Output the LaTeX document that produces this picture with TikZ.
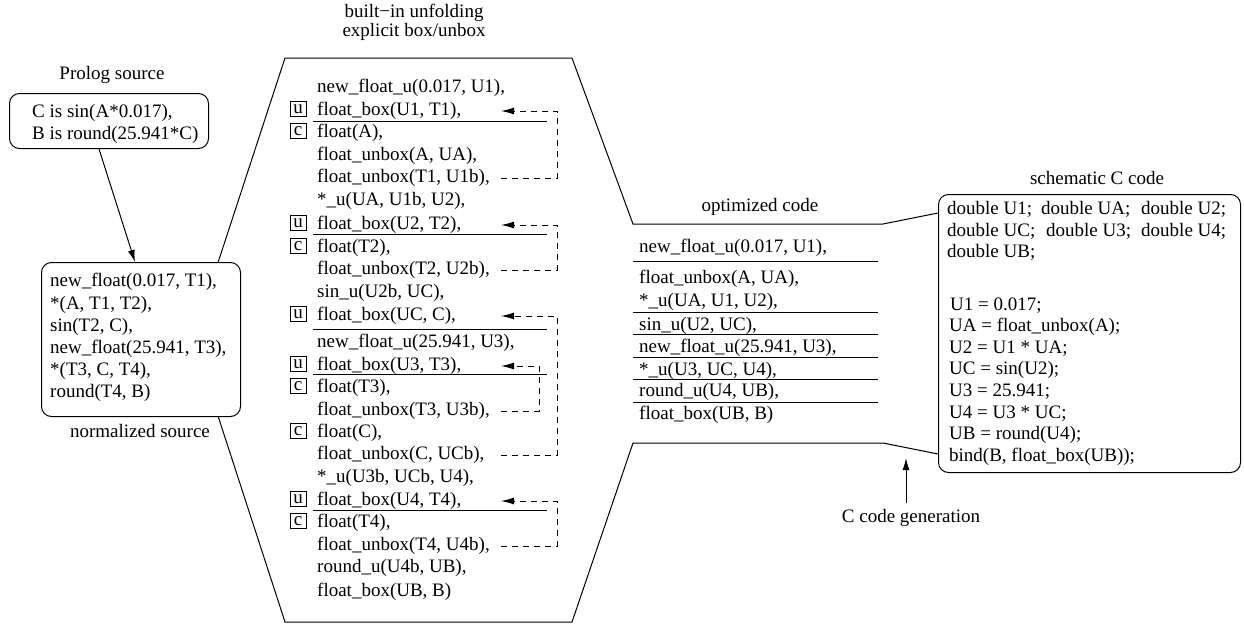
\documentclass[tikz,border=0pt]{standalone}
\usepackage{fontspec}
\setmainfont{Liberation Serif}
\usetikzlibrary{arrows.meta,calc}
\begin{document}
\begin{tikzpicture}[x=1pt,y=-1pt,
  every node/.style={font=\fontsize{19}{22}\selectfont, inner sep=0pt},
  txt/.style={anchor=west, text height=14pt, text depth=5pt},
  lbl/.style={text height=14pt, text depth=5pt},
  rbox/.style={draw, rounded corners=10pt, fill=white, line width=1pt, anchor=north west},
  tag/.style={draw, line width=0.9pt, minimum width=16pt, minimum height=15pt, inner sep=0pt},
  outline/.style={line width=1pt},
  rulel/.style={line width=1pt},
  solidarrow/.style={line width=1pt, -{Latex[length=12pt,width=7pt]}},
  dasharrow/.style={line width=1pt, dash pattern=on 6pt off 5pt, -{Latex[length=13pt,width=7pt]}},
]
\useasboundingbox (0,0) rectangle (1244,624);

% ---- C box (drawn first, outline ends on its left side)
\node[rbox, minimum width=302pt, minimum height=278pt] (cbox) at (938,194) {};

% ---- funnel outline
\coordinate (p1) at (285,58);
\coordinate (p2) at (572,58);
\coordinate (p3) at (633,224);
\coordinate (p4) at (883,224);
\coordinate (p7) at (883,443);
\coordinate (p8) at (633,443);
\coordinate (p9) at (572,622);
\coordinate (p10) at (285,622);
\coordinate (p11) at (193,339);
\coordinate (q5) at (cbox.west |- 0,213);
\coordinate (q6) at (cbox.west |- 0,454);
\draw[outline] (q5) -- (p4) -- (p3) -- (p2) -- (p1) -- (p11) -- (p10) -- (p9) -- (p8) -- (p7) -- (q6);

% ---- Prolog source
\node[lbl] (prolab) at (112,75) {Prolog source};
\node[rbox, minimum width=199pt, minimum height=55pt] (pro) at (9,93) {};
\node[txt] (pro1) at (32,113) {C is sin(A*0.017),};
\node[txt] (pro2) at (32,135) {B is round(25.941*C)};

% ---- normalized source
\node[rbox, minimum width=199pt, minimum height=154pt] (norm) at (41,262) {};
\node[txt] (n1) at (50,282) {new\_float(0.017, T1),};
\node[txt] (n2) at (50,305) {*(A, T1, T2),};
\node[txt] (n3) at (50,327) {sin(T2, C),};
\node[txt] (n4) at (50,349) {new\_float(25.941, T3),};
\node[txt] (n5) at (50,371) {*(T3, C, T4),};
\node[txt] (n6) at (50,393) {round(T4, B)};
\node[lbl] (normlab) at (140,433) {normalized source};

\draw[solidarrow] ($(pro.south west)+(90,0)$) -- ($(norm.north west)+(94,0)$);

% ---- middle column
\node[lbl] (mlab1) at (414,13) {built−in unfolding};
\node[lbl] (mlab2) at (414,32) {explicit box/unbox};

\node[txt] (l1) at (317,88) {new\_float\_u(0.017, U1),};
\node[txt] (l2) at (317,111) {float\_box(U1, T1),};
\node[txt] (l3) at (317,133) {float(A),};
\node[txt] (l4) at (317,156) {float\_unbox(A, UA),};
\node[txt] (l5) at (317,178) {float\_unbox(T1, U1b),};
\node[txt] (l6) at (317,201) {*\_u(UA, U1b, U2),};
\node[txt] (l7) at (317,225) {float\_box(U2, T2),};
\node[txt] (l8) at (317,248) {float(T2),};
\node[txt] (l9) at (317,270) {float\_unbox(T2, U2b),};
\node[txt] (l10) at (317,293) {sin\_u(U2b, UC),};
\node[txt] (l11) at (317,316) {float\_box(UC, C),};
\node[txt] (l12) at (317,343) {new\_float\_u(25.941, U3),};
\node[txt] (l13) at (317,366) {float\_box(U3, T3),};
\node[txt] (l14) at (317,388) {float(T3),};
\node[txt] (l15) at (317,411) {float\_unbox(T3, U3b),};
\node[txt] (l16) at (317,433) {float(C),};
\node[txt] (l17) at (317,455) {float\_unbox(C, UCb),};
\node[txt] (l18) at (317,478) {*\_u(U3b, UCb, U4),};
\node[txt] (l19) at (317,501) {float\_box(U4, T4),};
\node[txt] (l20) at (317,523) {float(T4),};
\node[txt] (l21) at (317,546) {float\_unbox(T4, U4b),};
\node[txt] (l22) at (317,568) {round\_u(U4b, UB),};
\node[txt] (l23) at (317,592) {float\_box(UB, B)};

% tags
\node[tag] (u1) at (298,109) {u};
\node[tag] (c1) at (298,131) {c};
\node[tag] (u2) at (298,223) {u};
\node[tag] (c2) at (298,246) {c};
\node[tag] (u3) at (298,314) {u};
\node[tag] (u4) at (298,364) {u};
\node[tag] (c3) at (298,386) {c};
\node[tag] (c4) at (298,431) {c};
\node[tag] (u5) at (298,499) {u};
\node[tag] (c5) at (298,521) {c};

% separators
\foreach \yy in {121,234,329,374,510} \draw[rulel] (313,\yy) -- (547,\yy);

% dashed loops
\coordinate (ax) at (501,0);
\coordinate (xo) at (557,0);
\coordinate (xi) at (539,0);
\draw[dasharrow] (l5 -| ax) -- (l5 -| xo) -- (l2 -| xo) -- (l2 -| ax);
\draw[dasharrow] (l9 -| ax) -- (l9 -| xo) -- (l7 -| xo) -- (l7 -| ax);
\draw[dasharrow] (l17 -| ax) -- (l17 -| xo) -- (l11 -| xo) -- (l11 -| ax);
\draw[dasharrow] (l15 -| ax) -- (l15 -| xi) -- (l13 -| xi) -- (l13 -| ax);
\draw[dasharrow] (l21 -| ax) -- (l21 -| xo) -- (l19 -| xo) -- (l19 -| ax);

% ---- optimized code
\node[lbl] (olab) at (760,207) {optimized code};
\node[txt] (o1) at (639,248) {new\_float\_u(0.017, U1),};
\node[txt] (o2) at (639,279) {float\_unbox(A, UA),};
\node[txt] (o3) at (639,302) {*\_u(UA, U1, U2),};
\node[txt] (o4) at (639,326) {sin\_u(U2, UC),};
\node[txt] (o5) at (639,348) {new\_float\_u(25.941, U3),};
\node[txt] (o6) at (639,371) {*\_u(U3, UC, U4),};
\node[txt] (o7) at (639,392) {round\_u(U4, UB),};
\node[txt] (o8) at (639,415) {float\_box(UB, B)};
\foreach \yy in {261,312,334,357,379,402} \draw[rulel] (633,\yy) -- (878,\yy);

% ---- schematic C code
\node[lbl] (clab) at (1097,180) {schematic C code};
\node[txt] (cd1) at (947,210) {\makebox[94pt][l]{double U1;}\makebox[100pt][l]{double UA;}double U2;};
\node[txt] (cd2) at (947,232) {\makebox[99pt][l]{double UC;}\makebox[95pt][l]{double U3;}double U4;};
\node[txt] (cd3) at (947,253) {double UB;};
\node[txt] (ca1) at (950,306) {U1 = 0.017;};
\node[txt] (ca2) at (949,327) {UA = float\_unbox(A);};
\node[txt] (ca3) at (949,349) {U2 = U1 * UA;};
\node[txt] (ca4) at (949,370) {UC = sin(U2);};
\node[txt] (ca5) at (949,392) {U3 = 25.941;};
\node[txt] (ca6) at (949,414) {U4 = U3 * UC;};
\node[txt] (ca7) at (949,435) {UB = round(U4);};
\node[txt] (ca8) at (949,457) {bind(B, float\_box(UB));};

% ---- C code generation
\node[lbl] (cg) at (911,518) {C code generation};
\coordinate (cgtail) at (906,503);
\coordinate (cgtip) at (906,458);
\draw[solidarrow] (cgtail) -- (cgtip);
\end{tikzpicture}
\end{document}
